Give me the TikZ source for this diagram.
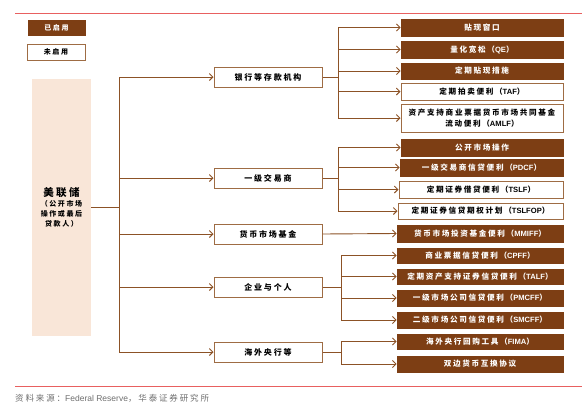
\documentclass[tikz,border=0pt]{standalone}
\usepackage{fontspec}
\setmainfont{Noto Sans CJK SC}[LetterSpace=22]
\newfontfamily\latf{Liberation Sans}
\newcommand\lt[1]{{\latf #1}}
\usetikzlibrary{arrows.meta}
\definecolor{bfill}{RGB}{125,62,20}
\definecolor{bline}{RGB}{158,108,68}
\definecolor{lcol}{RGB}{140,82,38}
\definecolor{fedfill}{RGB}{249,230,216}
\definecolor{redl}{RGB}{232,96,96}
\definecolor{srcgray}{RGB}{110,110,110}
\begin{document}
\begin{tikzpicture}[x=1pt,y=-1pt,
 leafF/.style={draw=bfill, fill=bfill, text=white, inner sep=0pt, line width=0.8pt, font=\fontsize{7.6}{11.5}\selectfont\bfseries, align=center},
 leafO/.style={draw=bline, fill=white, text=black, inner sep=0pt, line width=1pt, font=\fontsize{7.6}{11.5}\selectfont\bfseries, align=center},
 mid/.style={draw=bline, line width=1pt, fill=white, inner sep=0pt, minimum width=108pt, minimum height=20pt, font=\fontsize{8}{9}\selectfont\bfseries},
 conn/.style={draw=lcol, line width=0.9pt},
 arr/.style={conn, -{Straight Barb[length=3.5pt,width=7pt]}},
 redline/.style={draw=redl, line width=0.8pt},
]
\useasboundingbox (0,0) rectangle (582,418);
% frame lines
\draw[redline] (15,13) -- (582,13);
\draw[redline] (15,386) -- (582,386);
% legend
\node[leafF, minimum width=57pt, minimum height=15pt, font=\fontsize{7}{8}\selectfont\bfseries] (lg1) at (56.5,27.5) {已启用};
\node[leafO, minimum width=58pt, minimum height=16pt, font=\fontsize{7}{8}\selectfont\bfseries] (lg2) at (56,52) {未启用};
% fed
\node[fill=fedfill, minimum width=59pt, minimum height=257pt, inner sep=0pt, align=center, font=\fontsize{7}{10}\selectfont\bfseries] (fed) at (61.5,207.5)
 {\fontsize{10.5}{14}\selectfont 美联储\\\fontsize{7}{10}\selectfont （公开市场\\操作或最后\\贷款人）};
% middle level
\node[mid] (m1) at (268,77) {银行等存款机构};
\node[mid] (m2) at (268,178) {一级交易商};
\node[mid] (m3) at (268,234) {货币市场基金};
\node[mid] (m4) at (268,287) {企业与个人};
\node[mid] (m5) at (268,352) {海外央行等};
% leaves
\node[leafF, minimum width=162pt, minimum height=17pt] (l1) at (482,27.5) {贴现窗口};
\node[leafF, minimum width=162pt, minimum height=17pt] (l2) at (482,49.5) {量化宽松（\lt{QE}）};
\node[leafF, minimum width=162pt, minimum height=16pt] (l3) at (482,71) {定期贴现措施};
\node[leafO, minimum width=162pt, minimum height=17pt] (l4) at (482,91.5) {定期拍卖便利（\lt{TAF}）};
\node[leafO, minimum width=162pt, minimum height=28pt] (l5) at (482,118) {资产支持商业票据货币市场共同基金\\流动便利（\lt{AMLF}）};
\node[leafF, minimum width=162pt, minimum height=17pt] (l6) at (482,147.5) {公开市场操作};
\node[leafF, minimum width=163pt, minimum height=17pt] (l7) at (481.5,167.5) {一级交易商信贷便利（\lt{PDCF}）};
\node[leafO, minimum width=164pt, minimum height=17pt] (l8) at (481,189.5) {定期证券借贷便利（\lt{TSLF}）};
\node[leafO, minimum width=165pt, minimum height=16pt] (l9) at (480.5,211) {定期证券信贷期权计划（\lt{TSLFOP}）};
\node[leafF, minimum width=166pt, minimum height=17pt] (l10) at (480,233.5) {货币市场投资基金便利（\lt{MMIFF}）};
\node[leafF, minimum width=166pt, minimum height=15pt] (l11) at (480,255.5) {商业票据信贷便利（\lt{CPFF}）};
\node[leafF, minimum width=166pt, minimum height=15pt] (l12) at (480,276.5) {定期资产支持证券信贷便利（\lt{TALF}）};
\node[leafF, minimum width=166pt, minimum height=16pt] (l13) at (480,298) {一级市场公司信贷便利（\lt{PMCFF}）};
\node[leafF, minimum width=166pt, minimum height=16pt] (l14) at (480,320) {二级市场公司信贷便利（\lt{SMCFF}）};
\node[leafF, minimum width=166pt, minimum height=15pt] (l15) at (480,341.5) {海外央行回购工具（\lt{FIMA}）};
\node[leafF, minimum width=166pt, minimum height=16pt] (l16) at (480,364) {双边货币互换协议};
% source
\node[anchor=west, text=srcgray, inner sep=0pt, font=\fontsize{8.5}{10}\selectfont] (src) at (15,398) {资料来源：\lt{Federal Reserve}，华泰证券研究所};
% trunk
\coordinate (t) at (119,207.5);
\draw[conn] (fed.east |- t) -- (t);
\draw[conn] (t |- m1) -- (t |- m5);
\foreach \m in {1,...,5} \draw[arr] (t |- m\m) -- (m\m.west);
% group 1
\coordinate (v1) at (338,0);
\draw[conn] (m1.east) -- (m1.east -| v1);
\draw[conn] (v1 |- l1) -- (v1 |- l5);
\foreach \i in {1,...,5} \draw[arr] (v1 |- l\i) -- (l\i.west);
% group 2
\coordinate (v2) at (338,0);
\draw[conn] (m2.east) -- (m2.east -| v2);
\draw[conn] (v2 |- l6) -- (v2 |- l9);
\foreach \i in {6,...,9} \draw[arr] (v2 |- l\i) -- (l\i.west);
% group 3
\draw[arr] (m3.east) -- (l10.west);
% group 4
\coordinate (v4) at (341,0);
\draw[conn] (m4.east) -- (m4.east -| v4);
\draw[conn] (v4 |- l11) -- (v4 |- l14);
\foreach \i in {11,...,14} \draw[arr] (v4 |- l\i) -- (l\i.west);
% group 5
\draw[conn] (m5.east) -- (m5.east -| v4);
\draw[conn] (v4 |- l15) -- (v4 |- l16);
\foreach \i in {15,16} \draw[arr] (v4 |- l\i) -- (l\i.west);
\end{tikzpicture}
\end{document}
